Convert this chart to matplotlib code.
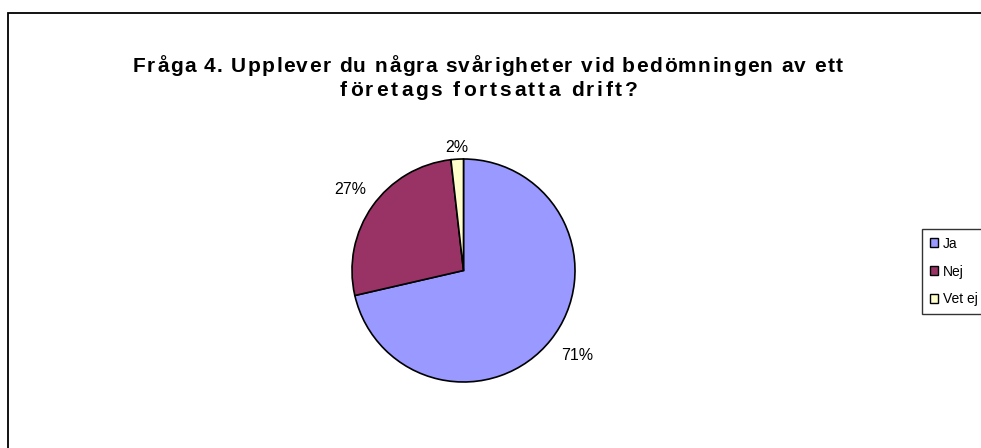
import matplotlib
matplotlib.use("Agg")
import matplotlib.pyplot as plt
from matplotlib.patches import Rectangle, Patch

categories = ["Ja", "Nej", "Vet ej"]
values = [71.4, 26.8, 1.8]
labels = ["71%", "27%", "2%"]
colors = ["#9999FF", "#993366", "#FFFFCC"]
title_lines = ["Fråga 4. Upplever du några svårigheter vid bedömningen av ett",
               "företags fortsatta drift?"]

plt.rcParams['font.family'] = ['Liberation Sans', 'DejaVu Sans']

W, H = 981, 448
fig = plt.figure(figsize=(W/100, H/100), dpi=100)
fig.patch.set_facecolor("white")
renderer = fig.canvas.get_renderer()

# outer frame (extends past right/bottom edges)
fig.patches.append(Rectangle((8/W, -0.2), 1.2, 1 - 13/H + 0.2, transform=fig.transFigure,
                             fill=False, edgecolor="black", linewidth=1.3))

cx, cy, r = 463.5, 270.5, 111.5
ax = fig.add_axes([(cx - r)/W, 1 - (cy + r)/H, 2*r/W, 2*r/H])
wedges, texts = ax.pie(values, colors=colors, startangle=90, counterclock=False,
                       wedgeprops=dict(edgecolor="black", linewidth=1.2), radius=1.0)
ax.set_xlim(-1, 1)
ax.set_ylim(-1, 1)
ax.set_aspect("equal")
ax.axis("off")

label_pos = [(577, 356), (350, 190), (457, 148)]
for (x, y), t in zip(label_pos, labels):
    fig.text(x/W, 1 - y/H, t, ha="center", va="center", fontsize=11.5, color="black")


def tracked_text(s, xc, yc, target_w, size):
    """Draw string s centred at pixel (xc, yc) with uniform letter spacing."""
    def width(sub):
        if not sub:
            return 0.0
        t = fig.text(0, 0, sub, fontsize=size, fontweight="bold")
        bb = t.get_window_extent(renderer)
        t.remove()
        return bb.width
    full = width(s)
    track = (target_w - full) / max(len(s) - 1, 1)
    x0 = xc - target_w / 2
    bar = width("|")
    for i, ch in enumerate(s):
        if ch == " ":
            continue
        x = x0 + (width(s[:i] + "|") - bar if i > 0 else 0) + i * track
        fig.text(round(x)/W, 1 - yc/H, ch, ha="left", va="center", fontsize=size,
                 fontweight="bold")


tracked_text(title_lines[0], 488, 67, 710, 15)
tracked_text(title_lines[1], 489, 91, 298, 15)

handles = [Patch(facecolor=c, edgecolor="black", linewidth=1.0) for c in colors]
leg = fig.legend(handles, categories, loc="upper left",
                 bbox_to_anchor=(922/W, 1 - 229/H), fontsize=10,
                 frameon=True, fancybox=False, edgecolor="black",
                 handlelength=0.6, handleheight=0.6, handletextpad=0.35,
                 labelspacing=1.0, borderpad=0.55, borderaxespad=0)
leg.get_frame().set_linewidth(1.0)

fig.savefig("out.png", dpi=100, facecolor="white")
